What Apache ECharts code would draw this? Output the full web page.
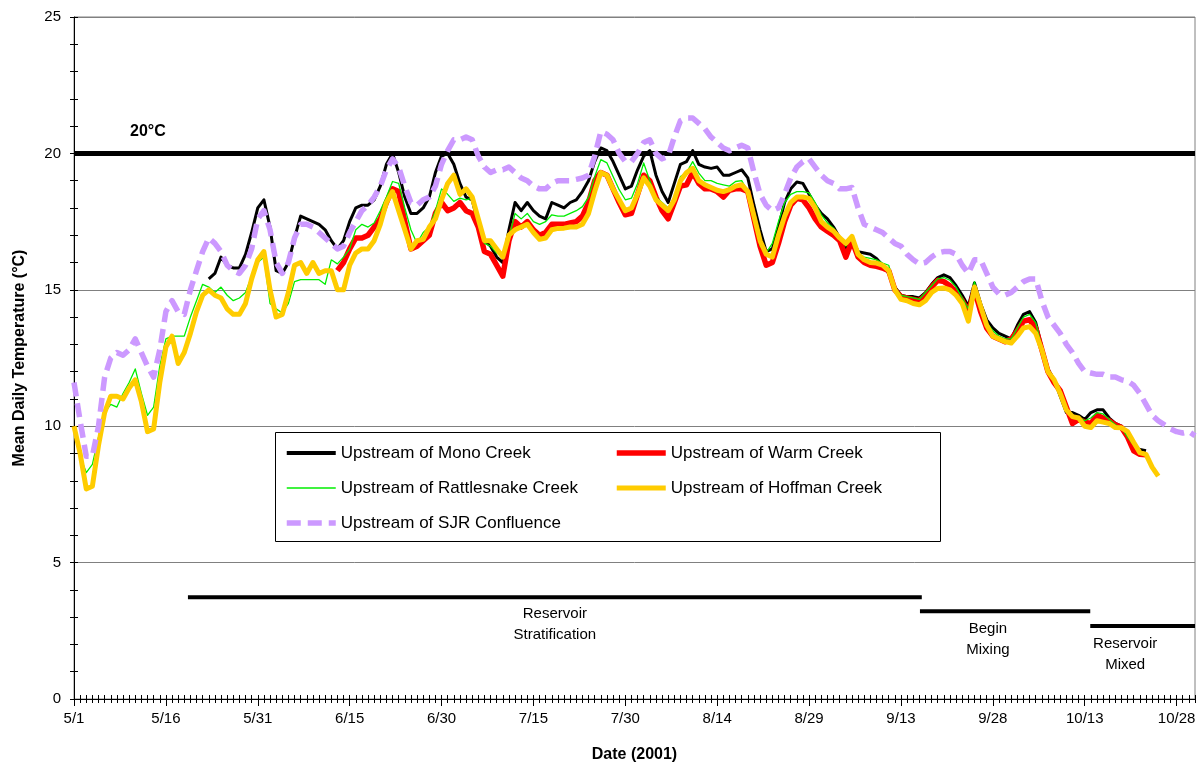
<!DOCTYPE html>
<html><head><meta charset="utf-8">
<script src="https://cdn.jsdelivr.net/npm/echarts@6/dist/echarts.min.js"></script>
<style>html,body{margin:0;padding:0;background:#fff}#chart{width:1204px;height:768px}</style>
</head><body><div id="chart"></div>
<script>
const FONT = '"Liberation Sans", Arial, Helvetica, sans-serif';

// x axis: day index 0 = 5/1/2001 ... 183 = 10/31/2001
const dayMax = 183;
const xTickLabels = ['5/1','5/16','5/31','6/15','6/30','7/15','7/30','8/14','8/29','9/13','9/28','10/13','10/28'];
const yTickLabels = ['0','5','10','15','20','25'];

const seriesNames = ['Upstream of Mono Creek','Upstream of Warm Creek','Upstream of Rattlesnake Creek','Upstream of Hoffman Creek','Upstream of SJR Confluence'];

const monoStart = 22;
const monoValues = [
 15.4,15.6,16.2,15.9,15.8,15.8,16.3,17.1,
 18.0,18.3,17.3,15.7,15.6,16.0,16.9,17.7,17.6,17.5,
 17.4,17.2,16.8,16.5,16.8,17.5,18.0,18.1,18.1,18.3,
 18.8,19.6,20.0,19.3,18.4,17.8,17.8,18.0,18.4,19.3,
 19.9,20.0,19.6,18.9,18.4,18.3,17.4,16.8,16.6,16.2,
 16.0,17.2,18.2,17.9,18.2,17.9,17.7,17.6,18.2,18.1,
 18.0,18.2,18.3,18.6,19.0,19.7,20.2,20.1,19.7,19.2,
 18.7,18.8,19.4,19.9,20.1,19.2,18.6,18.2,18.9,19.6,
 19.7,20.1,19.6,19.5,19.45,19.5,19.2,19.2,19.3,19.4,
 19.1,18.1,17.2,16.4,16.5,17.3,18.2,18.7,18.95,18.9,
 18.5,18.1,17.8,17.6,17.3,16.9,16.5,16.9,16.4,16.35,
 16.3,16.15,15.9,15.6,15.1,14.8,14.75,14.75,14.7,14.9,
 15.2,15.45,15.55,15.45,15.15,14.8,14.4,15.25,14.5,13.9,
 13.6,13.4,13.3,13.2,13.7,14.1,14.2,13.8,12.9,12.1,
 11.7,11.1,10.5,10.5,10.4,10.25,10.5,10.6,10.6,10.3,
 10.1,10.0,9.6,9.2,9.15,9.1
];

const warmStart = 43;
const warmValues = [
 15.7,16.0,16.5,16.9,16.9,17.0,17.3,
 17.6,18.2,18.7,18.6,17.5,16.5,16.6,16.8,17.0,17.8,
 18.2,17.9,18.0,18.2,17.9,17.8,17.3,16.4,16.3,15.9,
 15.5,16.8,17.5,17.3,17.5,17.2,17.0,17.1,17.4,17.4,
 17.4,17.45,17.5,17.7,18.2,19.0,19.3,19.2,18.7,18.2,
 17.75,17.8,18.5,19.2,19.0,18.4,17.9,17.6,18.2,18.8,
 18.85,19.3,18.9,18.7,18.7,18.6,18.4,18.65,18.7,18.7,
 18.6,17.6,16.6,15.9,16.0,16.7,17.5,18.1,18.35,18.3,
 18.0,17.6,17.3,17.15,17.0,16.8,16.2,16.8,16.2,16.0,
 15.9,15.86,15.8,15.7,15.0,14.75,14.7,14.65,14.6,14.8,
 15.1,15.35,15.3,15.15,14.9,14.6,14.2,15.0,14.2,13.6,
 13.3,13.2,13.1,13.2,13.5,13.85,13.9,13.6,12.8,12.0,
 11.6,11.3,10.7,10.1,10.25,10.15,10.1,10.4,10.3,10.2,
 10.05,9.95,9.6,9.1,8.97,8.95
];

const rattleStart = 0;
const rattleValues = [
 9.9,8.9,8.3,8.6,9.6,10.5,10.8,10.7,11.2,11.6,
 12.1,11.2,10.4,10.7,12.2,13.2,13.3,13.3,13.3,14.0,
 14.6,15.2,15.1,14.9,15.1,14.8,14.6,14.7,14.9,15.5,
 16.0,16.2,14.5,14.3,14.15,14.5,15.3,15.37,15.37,15.37,
 15.37,15.2,16.1,15.95,16.2,16.5,17.2,17.4,17.3,17.45,
 17.9,18.4,18.97,18.9,18.0,17.2,16.7,17.1,17.3,17.9,
 18.7,18.5,18.24,18.36,18.3,18.36,17.6,16.7,16.6,16.35,
 16.2,16.9,17.8,17.6,17.8,17.5,17.4,17.5,17.75,17.7,
 17.7,17.8,17.9,18.05,18.4,19.15,19.77,19.65,19.15,18.67,
 18.3,18.36,18.9,19.65,19.0,18.4,18.2,18.0,18.4,19.15,
 19.3,19.7,19.28,19.0,19.0,18.9,18.85,18.8,18.97,19.0,
 18.6,17.6,16.6,16.35,16.7,17.5,18.2,18.5,18.6,18.6,
 18.55,18.2,17.75,17.45,17.26,16.9,16.6,17.0,16.35,16.2,
 16.15,16.1,15.98,15.9,15.1,14.8,14.75,14.7,14.65,14.9,
 15.15,15.4,15.45,15.35,15.1,14.7,14.3,15.3,14.4,13.8,
 13.5,13.3,13.2,13.2,13.6,14.0,14.1,13.8,12.9,12.1,
 11.7,11.2,10.6,10.3,10.35,10.2,10.3,10.5,10.45,10.25,
 10.05,9.95,9.6,9.3
];

const hoffStart = 0;
const hoffValues = [
 10.0,9.0,7.7,7.8,9.3,10.5,11.1,11.1,11.0,11.4,
 11.7,10.9,9.8,9.9,11.6,12.9,13.3,12.3,12.7,13.4,
 14.2,14.8,15.0,14.8,14.7,14.3,14.1,14.1,14.5,15.4,
 16.1,16.4,15.0,14.0,14.1,14.9,15.9,16.0,15.6,16.0,
 15.6,15.7,15.7,15.0,15.0,15.9,16.35,16.5,16.5,16.8,
 17.4,18.2,18.6,17.9,17.2,16.5,16.8,16.85,17.3,17.6,
 18.3,18.9,19.2,18.5,18.7,18.4,17.6,16.8,16.8,16.5,
 16.2,17.0,17.2,17.3,17.4,17.1,16.85,16.9,17.2,17.25,
 17.26,17.3,17.3,17.4,17.8,18.6,19.3,19.2,18.7,18.3,
 17.9,18.0,18.5,19.1,18.8,18.3,18.1,17.9,18.3,19.0,
 19.3,19.45,19.0,18.85,18.75,18.65,18.6,18.67,18.8,18.85,
 18.6,17.7,16.8,16.3,16.2,17.0,17.7,18.2,18.4,18.4,
 18.35,18.0,17.5,17.3,17.15,16.9,16.7,16.96,16.3,16.1,
 16.0,15.98,15.9,15.7,15.0,14.65,14.6,14.5,14.45,14.6,
 14.9,15.05,15.07,15.0,14.8,14.5,13.85,15.1,14.4,13.7,
 13.3,13.2,13.1,13.05,13.3,13.6,13.65,13.4,12.8,12.0,
 11.7,11.2,10.6,10.35,10.3,10.0,9.95,10.2,10.15,10.1,
 9.95,9.94,9.8,9.4,9.03,8.97,8.5,8.17
];

const sjrStart = 0;
const sjrValues = [
 11.6,10.2,8.9,8.9,10.0,11.8,12.5,12.7,12.6,12.8,
 13.2,12.7,12.2,11.8,12.8,14.2,14.6,14.2,14.1,15.0,
 15.7,16.4,16.9,16.7,16.4,15.9,15.7,15.6,15.9,16.5,
 17.6,17.9,17.2,16.0,15.6,16.0,16.9,17.4,17.4,17.3,
 17.1,16.9,16.7,16.5,16.6,17.1,17.5,17.9,18.1,18.4,
 18.8,19.4,19.8,19.5,18.8,18.2,18.1,18.3,18.4,18.8,
 19.6,20.1,20.5,20.5,20.6,20.5,19.9,19.5,19.3,19.4,
 19.4,19.5,19.3,19.1,19.0,18.8,18.7,18.7,18.9,19.0,
 19.0,19.0,19.05,19.1,19.2,19.9,20.8,20.7,20.5,20.0,
 19.7,19.7,20.0,20.4,20.5,20.0,19.8,19.9,20.6,21.2,
 21.3,21.3,21.1,20.9,20.6,20.4,20.2,20.1,20.2,20.3,
 20.2,19.3,18.5,18.1,17.9,18.0,18.5,19.1,19.5,19.7,
 19.8,19.5,19.2,19.0,18.9,18.7,18.7,18.75,18.0,17.4,
 17.3,17.2,17.1,16.9,16.7,16.6,16.3,16.1,15.95,16.0,
 16.2,16.35,16.4,16.4,16.3,15.9,15.6,16.1,16.1,15.6,
 15.1,14.85,14.8,14.9,15.1,15.3,15.4,15.4,14.6,14.0,
 13.7,13.4,13.0,12.7,12.3,12.0,11.95,11.9,11.9,11.8,
 11.8,11.7,11.65,11.5,11.2,10.8,10.4,10.2,10.05,9.9,
 9.8,9.75,9.8,9.65
];

const thresholdValue = 20;
const thresholdLabel = '20°C';

// reservoir condition periods (day index) and bar levels (°C)
const stageNames = ['Reservoir\nStratification','Begin\nMixing','Reservoir\nMixed'];
const stageStart = [18.6, 138.1, 165.9];
const stageEnd = [138.4, 165.9, 183];
const stageLevel = [3.73, 3.22, 2.68];
const stageLabelDay = [78.5, 149.2, 171.6];
const stageLabelLevel = [2.73, 2.2, 1.65];

function pairs(start, values) { return values.map((v, i) => [start + i, v]); }

const colors = ['#000000', '#ff0000', '#00ee00', '#ffcc00', '#cc99ff'];
const widths = [3, 5.5, 1.3, 5, 5.5];
const legendWidths = [4, 5.5, 1.3, 5, 5.5];
const dashes = ['solid', 'solid', 'solid', 'solid', [14, 7]];
const starts = [monoStart, warmStart, rattleStart, hoffStart, sjrStart];
const valuesList = [monoValues, warmValues, rattleValues, hoffValues, sjrValues];

const series = seriesNames.map((name, k) => {
  const s = {
    name: name,
    type: 'line',
    data: pairs(starts[k], valuesList[k]),
    symbol: 'none',
    showSymbol: false,
    smooth: false,
    silent: true,
    emphasis: { disabled: true },
    color: colors[k],
    lineStyle: { color: colors[k], width: widths[k], type: dashes[k], cap: 'butt', join: 'round' },
    z: 3 + k
  };
  if (k === 4) {
    s.markLine = {
      silent: true,
      symbol: 'none',
      animation: false,
      emphasis: { disabled: true },
      lineStyle: { color: '#000', width: 5, type: 'solid' },
      label: {
        show: true, position: 'insideStartTop', formatter: thresholdLabel,
        color: '#000', fontFamily: FONT, fontWeight: 'bold', fontSize: 16, distance: [56, 14]
      },
      data: [{ yAxis: thresholdValue }]
    };
  }
  return s;
});

stageNames.forEach((nm, i) => {
  series.push({
    type: 'line', silent: true, symbol: 'none', showSymbol: false,
    emphasis: { disabled: true },
    lineStyle: { color: '#000', width: 4, cap: 'butt' },
    data: [[stageStart[i], stageLevel[i]], [stageEnd[i], stageLevel[i]]],
    z: 3
  });
});
series.push({
  type: 'scatter', silent: true, symbolSize: 0,
  emphasis: { disabled: true },
  itemStyle: { opacity: 1, color: '#000' },
  data: stageNames.map((nm, i) => ({ name: nm, value: [stageLabelDay[i], stageLabelLevel[i]] })),
  label: { show: true, position: 'inside', formatter: '{b}', color: '#000', opacity: 1, fontFamily: FONT, fontSize: 15, lineHeight: 21, align: 'center', verticalAlign: 'middle' },
  z: 3
});

function dateLabel(v) {
  const k = v / 15;
  return Number.isInteger(k) && k < xTickLabels.length ? xTickLabels[k] : '';
}

const tickAxisBase = {
  type: 'value', min: 0, max: dayMax, interval: 1, position: 'bottom',
  axisLine: { show: false }, axisLabel: { show: false }, splitLine: { show: false }
};

function legendItem(k) {
  return { name: seriesNames[k], lineStyle: { color: colors[k], width: legendWidths[k], type: dashes[k], cap: 'butt' } };
}

const legendCommon = {
  orient: 'vertical', top: 444, padding: 0, itemWidth: 49, itemHeight: 14, itemGap: 17,
  textStyle: { color: '#000', fontFamily: FONT, fontSize: 17, lineHeight: 18 },
  itemStyle: { color: 'rgba(0,0,0,0)', borderColor: 'rgba(0,0,0,0)', borderWidth: 0, opacity: 0 },
  selectedMode: false, z: 10
};

const option = {
  animation: false,
  backgroundColor: '#ffffff',
  textStyle: { fontFamily: FONT },
  grid: { left: 74, right: 9, top: 17, bottom: 68, show: true, borderColor: '#808080', borderWidth: 1, backgroundColor: 'transparent' },
  xAxis: [
    {
      type: 'value', min: 0, max: dayMax, interval: 15, position: 'bottom',
      name: 'Date (2001)', nameLocation: 'middle', nameGap: 48,
      nameTextStyle: { color: '#000', fontFamily: FONT, fontWeight: 'bold', fontSize: 16 },
      axisLine: { show: true, lineStyle: { color: '#000', width: 1 } },
      axisTick: { show: true, length: 7, lineStyle: { color: '#000' } },
      axisLabel: { color: '#000', fontFamily: FONT, fontSize: 15, margin: 12, formatter: dateLabel, showMaxLabel: false, showMinLabel: true },
      splitLine: { show: false }
    },
    Object.assign({}, tickAxisBase, { axisTick: { show: true, length: 4, inside: false, lineStyle: { color: '#000' } } }),
    Object.assign({}, tickAxisBase, { axisTick: { show: true, length: 4, inside: true, lineStyle: { color: '#000' } } })
  ],
  yAxis: [
    {
      type: 'value', min: 0, max: 25, interval: 5, position: 'left',
      name: 'Mean Daily Temperature (°C)', nameLocation: 'middle', nameGap: 46, nameRotate: 90,
      nameTextStyle: { color: '#000', fontFamily: FONT, fontWeight: 'bold', fontSize: 16 },
      axisLine: { show: true, lineStyle: { color: '#000', width: 1 } },
      axisTick: { show: true, length: 4, lineStyle: { color: '#000' } },
      minorTick: { show: true, splitNumber: 5, length: 4, lineStyle: { color: '#000' } },
      axisLabel: { color: '#000', fontFamily: FONT, fontSize: 15, margin: 13, formatter: v => yTickLabels[v / 5] },
      splitLine: { show: true, lineStyle: { color: '#808080', width: 1 } }
    },
    {
      type: 'value', min: 0, max: 25, interval: 5, position: 'left',
      axisLine: { show: false },
      axisTick: { show: true, length: 4, inside: true, lineStyle: { color: '#000' } },
      minorTick: { show: true, splitNumber: 5, length: 4, lineStyle: { color: '#000' } },
      axisLabel: { show: false }, splitLine: { show: false }
    }
  ],
  legend: [
    Object.assign({}, legendCommon, { left: 284, data: [legendItem(0), legendItem(2), legendItem(4)] }),
    Object.assign({}, legendCommon, { left: 614, data: [legendItem(1), legendItem(3)] })
  ],
  graphic: [
    { type: 'rect', left: 275, top: 432, z: 5, silent: true,
      shape: { width: 665, height: 109 },
      style: { fill: '#ffffff', stroke: '#000000', lineWidth: 1 } }
  ],
  series: series
};

const chart = echarts.init(document.getElementById('chart'), null, { renderer: 'canvas' });
chart.setOption(option);
</script>
</body></html>
